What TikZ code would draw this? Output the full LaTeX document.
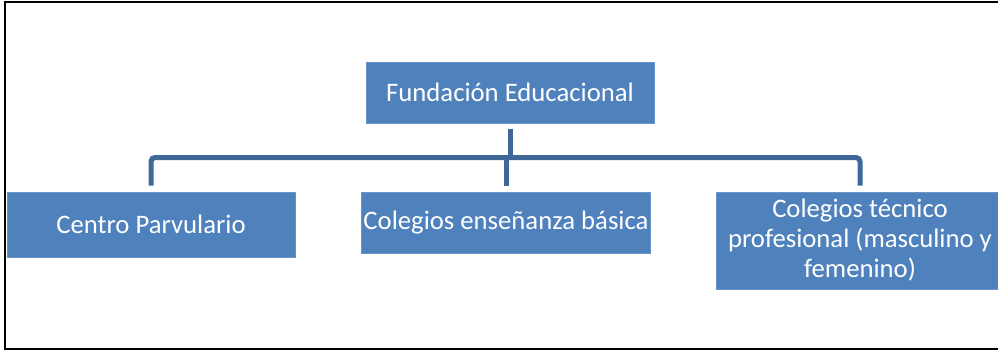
\documentclass[tikz,border=0pt]{standalone}
\usepackage{fontspec}
\setmainfont{Carlito}
\definecolor{boxblue}{HTML}{4F81BD}
\definecolor{lineblue}{HTML}{3F6797}
\tikzset{
  orgbox/.style={rectangle,fill=boxblue,draw=boxblue!85!white,line width=1pt,
    text=white,align=center,minimum width=288pt,inner sep=2pt,
    font=\fontsize{26.7}{30}\selectfont},
  conn/.style={draw=lineblue,line width=5pt}
}
\begin{document}
\begin{tikzpicture}[x=1pt,y=-1pt]
  \useasboundingbox (0,0) rectangle (998,351);
  \clip (0,0) rectangle (998,351);
  \draw[line width=2pt] (1010,2) -- (5,2) -- (5,349) -- (1010,349);

  \begin{scope}[every node/.style={orgbox}]
    \node[minimum height=61pt] (found) at (510,92.5) {Fundación Educacional};
    \node[minimum height=65pt] (parv) at (151,224.5) {Centro Parvulario};
    \node[minimum height=61pt] (bas) at (506,222.5) {Colegios enseñanza básica};
    \node[minimum height=97pt] (tec) at (860,240.5) {Colegios técnico\\profesional (masculino y\\femenino)};
  \end{scope}

  \coordinate (bar) at (510,157.5);
  \begin{scope}
    \draw[conn] ([yshift=-5pt]found.south) -- (bar);
    \draw[conn,rounded corners=4pt] ([yshift=6pt]parv.north) |- (bar) -| ([yshift=6pt]tec.north);
    \draw[conn] (bar -| bas.north) -- ([yshift=6pt]bas.north);
  \end{scope}
\end{tikzpicture}
\end{document}
